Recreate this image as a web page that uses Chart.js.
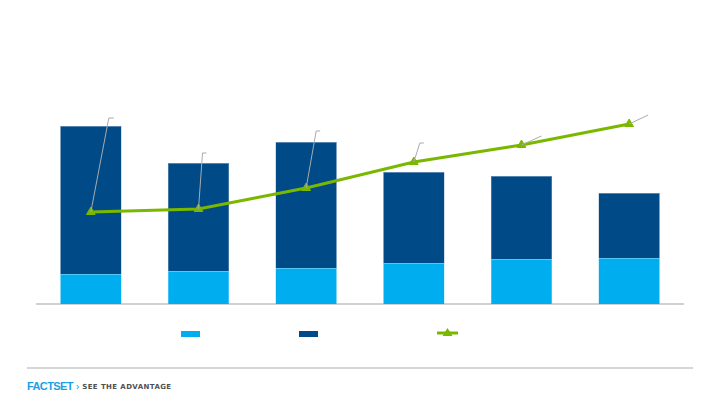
<!DOCTYPE html>
<html>
<head>
<meta charset="utf-8">
<script src="https://cdn.jsdelivr.net/npm/chart.js@4"></script>
<style>
  body { margin: 0; width: 720px; height: 405px; background: #fff; position: relative; overflow: hidden; font-family: "Open Sans", "Liberation Sans", sans-serif; }
  #wrap { position: absolute; left: 0; top: 0; width: 720px; height: 310px; }
  .leg { position: absolute; top: 331px; height: 6px; width: 19px; }
  #rule { position: absolute; left: 27px; top: 367px; width: 666px; height: 2px; background: #d6d6d6; }
  #foot { position: absolute; left: 27px; top: 376px; white-space: nowrap; line-height: 16px; }
  #logo { color: #1a9fe6; font-weight: 700; font-size: 11px; letter-spacing: -0.6px; font-family: "Liberation Sans", sans-serif; }
  #gt { color: #1a9fe6; font-size: 11px; margin: 0 3px 0 3px; }
  #tag { color: #505050; font-weight: 700; font-size: 7px; letter-spacing: 0.4px; font-family: "DejaVu Sans", sans-serif; position: relative; top: -1px; }
</style>
</head>
<body>
<div id="wrap"><canvas id="myChart"></canvas></div>
<div class="leg" style="left:181px;background:#00aeef"></div>
<div class="leg" style="left:299px;background:#004b87"></div>
<svg style="position:absolute;left:437px;top:327px" width="22" height="12">
  <line x1="0" y1="6" x2="21" y2="6" stroke="#7ab800" stroke-width="3"/>
  <polygon points="10.5,1 15.5,9 5.5,9" fill="#7ab800"/>
</svg>
<div id="rule"></div>
<div id="foot"><span id="logo">FACTSET</span><span id="gt">›</span><span id="tag">SEE THE ADVANTAGE</span></div>
<script>
const categories = ['1', '2', '3', '4', '5', '6'];
const lowerValues = [30, 33, 36, 41, 45, 46];
const upperValues = [148, 108, 126, 91, 83, 65];
const lineValues = [92, 95, 116, 142, 159, 180];

// where each empty data label sits, relative to its point
const leaderOffsets = [[18, -94, 5], [4, -56, 4], [10, -57, 4], [6, -19, 4], [20, -9, 0], [19, -9, 0]];

const leaderLines = {
  id: 'leaderLines',
  afterDatasetsDraw(chart) {
    const meta = chart.getDatasetMeta(2);
    const c = chart.ctx;
    c.save();
    c.strokeStyle = '#aaaaaa';
    c.lineWidth = 1;
    meta.data.forEach((pt, i) => {
      const o = leaderOffsets[i];
      c.beginPath();
      c.moveTo(pt.x, pt.y);
      c.lineTo(pt.x + o[0], pt.y + o[1]);
      c.lineTo(pt.x + o[0] + o[2], pt.y + o[1]);
      c.stroke();
    });
    c.restore();
  }
};

const ctx = document.getElementById('myChart');
let myChart = new Chart(ctx, {
  type: 'bar',
  data: {
    labels: categories,
    datasets: [
      {
        label: 'Series 1',
        data: lowerValues,
        backgroundColor: '#00aeef',
        borderColor: '#5bc6f0',
        borderWidth: 0.5,
        order: 2,
      },
      {
        label: 'Series 2',
        data: upperValues,
        backgroundColor: '#004b87',
        borderColor: '#5a86b4',
        borderWidth: 0.5,
        order: 2,
      },
      {
        type: 'line',
        label: 'Series 3',
        data: lineValues,
        yAxisID: 'y2',
        borderColor: '#7ab800',
        backgroundColor: '#7ab800',
        borderWidth: 3,
        pointStyle: 'triangle',
        pointRadius: 5,
        pointBorderWidth: 1,
        tension: 0,
        order: 0,
      },
    ],
  },
  options: {
    responsive: true,
    maintainAspectRatio: false,
    animation: false,
    layout: { padding: { left: 37, right: 37, top: 24, bottom: 5 } },
    plugins: { legend: { display: false }, tooltip: { enabled: false } },
    datasets: { bar: { categoryPercentage: 1, barPercentage: 0.57 } },
    scales: {
      x: {
        stacked: true,
        grid: { display: false, drawTicks: false },
        border: { display: true, color: '#d0d0d0', width: 2 },
        ticks: { display: false },
      },
      y: { stacked: true, display: false, min: 0, max: 280 },
      y2: { display: false, min: 0, max: 280 },
    },
  },
  plugins: [leaderLines],
});
</script>
</body>
</html>
